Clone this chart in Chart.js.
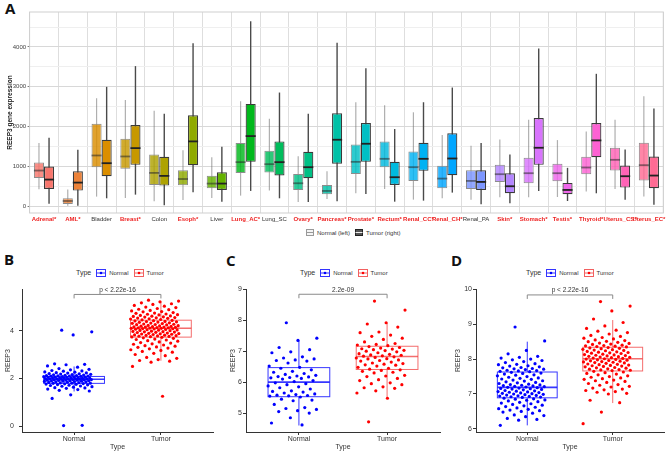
<!DOCTYPE html>
<html>
<head>
<meta charset="utf-8">
<script src="https://cdn.jsdelivr.net/npm/chart.js@4.4.1/dist/chart.umd.min.js"></script>
<style>
  body { margin: 0; width: 668px; height: 453px; background: #fff; position: relative; overflow: hidden; font-family: "Liberation Sans", Arial, sans-serif; }
  canvas { position: absolute; }
  .panel { position: absolute; font-family: "Open Sans", "DejaVu Sans", sans-serif; font-weight: 700; font-size: 15px; line-height: 1; color: #111; }
  .leg { position: absolute; display: flex; align-items: center; white-space: nowrap; color: #333; font-size: 6px; height: 9px; }
  .leg .ttl { font-size: 7px; margin-right: 3px; }
  .leg svg { margin: 0 3px 0 2px; }
</style>
</head>
<body>
<div class="panel" style="left:5px;top:1px">A</div>
<div class="panel" style="left:4px;top:252px">B</div>
<div class="panel" style="left:226px;top:253px">C</div>
<div class="panel" style="left:451px;top:253px">D</div>

<canvas id="chartA" width="668" height="226" style="left:0;top:0"></canvas>
<canvas id="chartB" width="222" height="173" style="left:0;top:280px"></canvas>
<canvas id="chartC" width="220" height="173" style="left:224px;top:280px"></canvas>
<canvas id="chartD" width="222" height="173" style="left:446px;top:280px"></canvas>

<div class="leg" style="left:304px;top:228px">
  <svg width="8" height="7"><rect x="0.5" y="0.5" width="7" height="6" fill="#f4f4f4" stroke="#999"/><line x1="0.5" y1="3.5" x2="7.5" y2="3.5" stroke="#999"/></svg>Normal (left)
  <svg width="8" height="7" style="margin-left:5px"><rect x="0.5" y="0.5" width="7" height="6" fill="#555" stroke="#222"/><line x1="0.5" y1="3.5" x2="7.5" y2="3.5" stroke="#eee"/></svg>Tumor (right)
</div>
<div class="leg" style="left:76px;top:268px"><span class="ttl">Type</span>
  <svg width="10" height="8"><rect x="0.5" y="0.5" width="9" height="7" fill="none" stroke="#3333ff"/><line x1="0.5" y1="4" x2="9.5" y2="4" stroke="#3333ff"/><circle cx="5" cy="4" r="1.3" fill="#0000ff"/></svg>Normal
  <svg width="10" height="8" style="margin-left:5px"><rect x="0.5" y="0.5" width="9" height="7" fill="none" stroke="#f26060"/><line x1="0.5" y1="4" x2="9.5" y2="4" stroke="#f26060"/><circle cx="5" cy="4" r="1.3" fill="#ff0000"/></svg>Tumor
</div>
<div class="leg" style="left:300px;top:268px"><span class="ttl">Type</span>
  <svg width="10" height="8"><rect x="0.5" y="0.5" width="9" height="7" fill="none" stroke="#3333ff"/><line x1="0.5" y1="4" x2="9.5" y2="4" stroke="#3333ff"/><circle cx="5" cy="4" r="1.3" fill="#0000ff"/></svg>Normal
  <svg width="10" height="8" style="margin-left:5px"><rect x="0.5" y="0.5" width="9" height="7" fill="none" stroke="#f26060"/><line x1="0.5" y1="4" x2="9.5" y2="4" stroke="#f26060"/><circle cx="5" cy="4" r="1.3" fill="#ff0000"/></svg>Tumor
</div>
<div class="leg" style="left:526px;top:268px"><span class="ttl">Type</span>
  <svg width="10" height="8"><rect x="0.5" y="0.5" width="9" height="7" fill="none" stroke="#3333ff"/><line x1="0.5" y1="4" x2="9.5" y2="4" stroke="#3333ff"/><circle cx="5" cy="4" r="1.3" fill="#0000ff"/></svg>Normal
  <svg width="10" height="8" style="margin-left:5px"><rect x="0.5" y="0.5" width="9" height="7" fill="none" stroke="#f26060"/><line x1="0.5" y1="4" x2="9.5" y2="4" stroke="#f26060"/><circle cx="5" cy="4" r="1.3" fill="#ff0000"/></svg>Tumor
</div>

<script>
// ---- panel A: REEP3 expression by tissue (box stats) ----
const tissues = ['Adrenal*', 'AML*', 'Bladder', 'Breast*', 'Colon', 'Esoph*', 'Liver', 'Lung_AC*', 'Lung_SC',
  'Ovary*', 'Pancreas*', 'Prostate*', 'Rectum*', 'Renal_CC*', 'Renal_CH*', 'Renal_PA', 'Skin*', 'Stomach*',
  'Testis*', 'Thyroid*', 'Uterus_CS*', 'Uterus_EC*'];

const normalMin = [421, 5, 236, 202, 118, 151, 202, 261, 387, 101, 177, 320, 429, 160, 194, 160, 219, 219, 227, 362, 429, 236];
const normalQ1  = [707, 50, 977, 934, 530, 520, 446, 833, 842, 404, 295, 808, 976, 631, 446, 429, 606, 572, 623, 800, 892, 640];
const normalMed = [892, 126, 1271, 1246, 833, 679, 564, 1103, 1052, 572, 379, 1111, 1187, 976, 690, 631, 800, 825, 825, 968, 1162, 1027];
const normalQ3  = [1094, 194, 2071, 1692, 1296, 897, 758, 1583, 1389, 808, 530, 1549, 1625, 1372, 1010, 901, 1035, 1212, 1061, 1237, 1465, 1591];
const normalMax = [1583, 412, 2711, 2669, 2399, 1400, 1229, 2635, 2197, 1254, 875, 2610, 2534, 2357, 1785, 1515, 1675, 2172, 1658, 1877, 2172, 2761];

const tumorMin = [59, 8, 194, 286, 17, 345, 109, 379, 194, 101, 118, 303, 109, 135, 337, 42, 67, 379, 126, 320, 160, 34];
const tumorQ1  = [429, 387, 749, 1035, 513, 1027, 404, 1111, 766, 699, 1061, 1111, 530, 884, 774, 404, 320, 1035, 295, 1229, 463, 446];
const tumorMed = [665, 589, 1077, 1456, 758, 1625, 564, 1759, 1103, 976, 1667, 1566, 724, 1187, 1195, 606, 497, 1465, 404, 1650, 749, 766];
const tumorQ3  = [993, 875, 1667, 2037, 1237, 2281, 850, 2568, 1625, 1364, 2332, 2088, 1111, 1591, 1827, 901, 825, 2214, 581, 2088, 1019, 1246];
const tumorMax = [1717, 1414, 2997, 3519, 2323, 4091, 1490, 4647, 2854, 2323, 4108, 3468, 1936, 2610, 2980, 1583, 1296, 3965, 960, 3325, 1423, 2450];

const yTicksA = [0, 1000, 2000, 3000, 4000];
const yMinorA = [500, 1500, 2500, 3500, 4500];

// ---- panels B, C, D: REEP3 per sample ----
const groups = ['Normal', 'Tumor'];

const bNormal = [4.02, 3.95, 3.82, 2.61, 2.59, 2.57, 2.52, 2.47, 2.41, 2.38, 2.36, 2.33, 2.31, 2.3, 2.27, 2.26, 2.24, 2.23,
  2.22, 2.2, 2.19, 2.18, 2.17, 2.16, 2.15, 2.14, 2.13, 2.12, 2.12, 2.11, 2.1, 2.09, 2.09, 2.08, 2.07, 2.07, 2.06, 2.05,
  2.05, 2.04, 2.04, 2.03, 2.02, 2.02, 2.01, 2.01, 2.0, 2.0, 1.99, 1.99, 1.98, 1.98, 1.97, 1.97, 1.96, 1.96, 1.95, 1.95,
  1.94, 1.94, 1.93, 1.92, 1.92, 1.91, 1.9, 1.9, 1.89, 1.88, 1.88, 1.87, 1.86, 1.85, 1.85, 1.84, 1.83, 1.82, 1.81, 1.8,
  1.8, 1.79, 1.78, 1.77, 1.76, 1.75, 1.74, 1.73, 1.71, 1.7, 1.68, 1.67, 1.65, 1.63, 1.61, 1.6, 1.58, 1.55, 1.53, 1.5,
  1.47, 1.31, 1.16, 0.03, 0.02];
const bTumor = [5.28, 5.24, 5.21, 5.17, 5.13, 5.1, 5.06, 5.03, 4.99, 4.97, 4.93, 4.9, 4.88, 4.85, 4.83, 4.8, 4.79, 4.76,
  4.74, 4.73, 4.7, 4.69, 4.67, 4.66, 4.64, 4.62, 4.61, 4.6, 4.58, 4.57, 4.55, 4.54, 4.53, 4.52, 4.5, 4.49, 4.47, 4.45,
  4.43, 4.42, 4.41, 4.39, 4.38, 4.37, 4.36, 4.35, 4.33, 4.32, 4.31, 4.3, 4.28, 4.27, 4.26, 4.25, 4.24, 4.22, 4.21, 4.2,
  4.19, 4.18, 4.17, 4.16, 4.15, 4.15, 4.14, 4.13, 4.12, 4.12, 4.11, 4.1, 4.1, 4.09, 4.08, 4.07, 4.06, 4.05, 4.04, 4.03,
  4.02, 4.01, 4.0, 3.98, 3.97, 3.96, 3.95, 3.94, 3.93, 3.92, 3.9, 3.89, 3.88, 3.87, 3.86, 3.85, 3.84, 3.82, 3.81, 3.8,
  3.79, 3.78, 3.77, 3.76, 3.75, 3.74, 3.72, 3.7, 3.68, 3.65, 3.63, 3.61, 3.58, 3.56, 3.53, 3.5, 3.48, 3.45, 3.43, 3.4,
  3.37, 3.35, 3.32, 3.3, 3.27, 3.24, 3.2, 3.17, 3.13, 3.1, 3.05, 3.0, 2.95, 2.88, 2.84, 2.79, 2.75, 2.72, 2.68, 2.5, 1.25];
// box stats: [lower whisker, Q1, median, Q3, upper whisker]
const bNormalBox = [1.45, 1.79, 1.96, 2.08, 2.5];
const bTumorBox = [2.74, 3.73, 4.1, 4.44, 5.21];
const bTicks = [0, 2, 4];

const cNormal = [7.92, 7.42, 7.35, 7.12, 7.05, 6.98, 6.95, 6.82, 6.78, 6.75, 6.72, 6.7, 6.68, 6.62, 6.52, 6.48, 6.45, 6.4,
  6.35, 6.32, 6.28, 6.25, 6.22, 6.2, 6.18, 6.17, 6.15, 6.14, 6.12, 6.1, 6.05, 6.02, 5.98, 5.95, 5.92, 5.88, 5.85, 5.82,
  5.78, 5.72, 5.7, 5.68, 5.65, 5.62, 5.6, 5.58, 5.57, 5.56, 5.55, 5.52, 5.45, 5.42, 5.4, 5.28, 5.18, 5.15, 5.12, 5.08,
  5.05, 5.0, 4.85, 4.68, 4.62];
const cTumor = [8.62, 8.33, 7.92, 7.88, 7.78, 7.62, 7.6, 7.52, 7.48, 7.42, 7.38, 7.3, 7.25, 7.22, 7.2, 7.18, 7.15, 7.12,
  7.1, 7.08, 7.07, 7.05, 7.03, 7.02, 7.0, 6.98, 6.95, 6.92, 6.9, 6.88, 6.87, 6.85, 6.84, 6.82, 6.8, 6.78, 6.76, 6.75,
  6.72, 6.7, 6.68, 6.65, 6.62, 6.6, 6.58, 6.56, 6.55, 6.52, 6.48, 6.45, 6.42, 6.4, 6.38, 6.35, 6.32, 6.3, 6.22, 6.2,
  6.18, 6.12, 6.08, 6.05, 5.98, 5.95, 5.92, 5.85, 5.82, 5.8, 5.72, 5.65, 5.48, 4.72];
const cNormalBox = [4.6, 5.53, 6.0, 6.47, 7.36];
const cTumorBox = [5.48, 6.41, 6.83, 7.16, 7.9];
const cTicks = [5, 6, 7, 8, 9];

const dNormal = [8.92, 8.52, 8.25, 8.15, 8.08, 8.05, 8.03, 8.0, 7.98, 7.96, 7.93, 7.9, 7.87, 7.85, 7.84, 7.81, 7.8, 7.78,
  7.76, 7.75, 7.73, 7.72, 7.71, 7.7, 7.68, 7.67, 7.66, 7.65, 7.64, 7.62, 7.6, 7.59, 7.57, 7.55, 7.54, 7.52, 7.5, 7.48,
  7.46, 7.45, 7.43, 7.42, 7.4, 7.38, 7.37, 7.35, 7.33, 7.32, 7.3, 7.28, 7.27, 7.26, 7.25, 7.24, 7.23, 7.22, 7.21, 7.2,
  7.19, 7.18, 7.17, 7.16, 7.15, 7.14, 7.13, 7.12, 7.1, 7.09, 7.08, 7.07, 7.06, 7.05, 7.04, 7.03, 7.02, 7.01, 7.0, 6.99,
  6.98, 6.97, 6.96, 6.95, 6.94, 6.93, 6.92, 6.91, 6.9, 6.88, 6.86, 6.85, 6.83, 6.82, 6.8, 6.78, 6.76, 6.74, 6.72, 6.7,
  6.68, 6.66, 6.64, 6.62, 6.6, 6.58, 6.56, 6.54, 6.52, 6.5, 6.48, 6.45, 6.4, 6.38, 6.35, 6.3, 6.27, 6.25, 6.1];
const dTumor = [9.65, 9.52, 9.38, 9.15, 9.05, 8.95, 8.88, 8.83, 8.8, 8.76, 8.72, 8.68, 8.65, 8.62, 8.6, 8.58, 8.55, 8.53,
  8.51, 8.5, 8.48, 8.46, 8.45, 8.43, 8.42, 8.4, 8.39, 8.38, 8.37, 8.36, 8.35, 8.33, 8.32, 8.31, 8.3, 8.28, 8.27, 8.26,
  8.25, 8.24, 8.22, 8.21, 8.2, 8.19, 8.18, 8.17, 8.16, 8.14, 8.13, 8.12, 8.11, 8.1, 8.09, 8.08, 8.07, 8.06, 8.05, 8.04,
  8.03, 8.02, 8.01, 8.0, 7.99, 7.98, 7.97, 7.96, 7.95, 7.94, 7.93, 7.92, 7.91, 7.9, 7.89, 7.88, 7.86, 7.85, 7.84, 7.83,
  7.82, 7.81, 7.8, 7.79, 7.78, 7.76, 7.75, 7.74, 7.72, 7.71, 7.7, 7.69, 7.68, 7.67, 7.65, 7.63, 7.61, 7.59, 7.57, 7.55,
  7.52, 7.5, 7.48, 7.46, 7.44, 7.42, 7.4, 7.38, 7.36, 7.33, 7.3, 7.27, 7.25, 7.22, 7.2, 7.17, 7.14, 7.12, 7.1, 7.07,
  7.05, 7.02, 7.0, 6.82, 6.75, 6.48, 6.15];
const dNormalBox = [6.1, 6.89, 7.19, 7.63, 8.5];
const dTumorBox = [6.74, 7.66, 8.01, 8.34, 9.12];
const dTicks = [6, 7, 8, 9, 10];

const FONT = '"Liberation Sans", Arial, sans-serif';

// ggplot-style hue palette (hcl, c=100, l=65)
function hcl(h, c, l) {
  const hr = h * Math.PI / 180;
  const u = c * Math.cos(hr), v = c * Math.sin(hr);
  const Xn = 95.047, Yn = 100, Zn = 108.883;
  const den = Xn + 15 * Yn + 3 * Zn;
  const un = 4 * Xn / den, vn = 9 * Yn / den;
  const Y = Yn * Math.pow((l + 16) / 116, 3);
  const up = u / (13 * l) + un, vp = v / (13 * l) + vn;
  const X = Y * 9 * up / (4 * vp), Z = Y * (12 - 3 * up - 20 * vp) / (4 * vp);
  const x = X / 100, y = Y / 100, z = Z / 100;
  const lin = [
    3.2404542 * x - 1.5371385 * y - 0.4985314 * z,
    -0.9692660 * x + 1.8760108 * y + 0.0415560 * z,
    0.0556434 * x - 0.2040259 * y + 1.0572252 * z
  ];
  const gam = t => t <= 0.0031308 ? 12.92 * t : 1.055 * Math.pow(t, 1 / 2.4) - 0.055;
  return lin.map(t => Math.round(255 * Math.min(1, Math.max(0, gam(t)))));
}
const palette = tissues.map((_, i) => hcl(15 + i * 360 / tissues.length, 100, 65));
const rgba = (c, a) => `rgba(${c[0]},${c[1]},${c[2]},${a})`;

// whiskers under the bars, medians on top
const boxA = {
  id: 'boxA',
  beforeDatasetsDraw(chart) {
    const ctx = chart.ctx, ys = chart.scales.y;
    chart.data.datasets.forEach((ds, d) => {
      const meta = chart.getDatasetMeta(d);
      ctx.save();
      ctx.strokeStyle = ds.whiskerColor;
      ctx.lineWidth = ds.whiskerWidth;
      meta.data.forEach((bar, i) => {
        ctx.beginPath();
        ctx.moveTo(bar.x, ys.getPixelForValue(ds.lo[i]));
        ctx.lineTo(bar.x, ys.getPixelForValue(ds.hi[i]));
        ctx.stroke();
      });
      ctx.restore();
    });
  },
  afterDatasetsDraw(chart) {
    const ctx = chart.ctx, ys = chart.scales.y;
    chart.data.datasets.forEach((ds, d) => {
      const meta = chart.getDatasetMeta(d);
      ctx.save();
      ctx.strokeStyle = ds.medianColor;
      ctx.lineWidth = 1.8;
      meta.data.forEach((bar, i) => {
        const y = ys.getPixelForValue(ds.med[i]);
        ctx.beginPath();
        ctx.moveTo(bar.x - bar.width / 2, y);
        ctx.lineTo(bar.x + bar.width / 2, y);
        ctx.stroke();
      });
      ctx.restore();
    });
  },
  afterDraw(chart) {
    const a = chart.chartArea, ctx = chart.ctx;
    ctx.save();
    ctx.strokeStyle = '#cfcfcf';
    ctx.lineWidth = 1;
    ctx.strokeRect(a.left, a.top, a.right - a.left, a.bottom - a.top);
    ctx.restore();
  }
};

new Chart(document.getElementById('chartA'), {
  type: 'bar',
  data: {
    labels: tissues,
    datasets: [
      {
        label: 'Normal (left)',
        data: normalQ1.map((q, i) => [q, normalQ3[i]]),
        backgroundColor: palette.map(c => rgba(c, 0.82)),
        borderColor: '#8c8c8c',
        borderWidth: 1,
        borderSkipped: false,
        lo: normalMin, hi: normalMax, med: normalMed,
        whiskerColor: 'rgba(110,110,110,0.55)', whiskerWidth: 1.2,
        medianColor: 'rgba(40,40,40,0.55)'
      },
      {
        label: 'Tumor (right)',
        data: tumorQ1.map((q, i) => [q, tumorQ3[i]]),
        backgroundColor: palette.map(c => rgba(c, 1)),
        borderColor: '#3a3a3a',
        borderWidth: 1.2,
        borderSkipped: false,
        lo: tumorMin, hi: tumorMax, med: tumorMed,
        whiskerColor: '#4a4a4a', whiskerWidth: 1.4,
        medianColor: '#222'
      }
    ]
  },
  options: {
    responsive: false,
    animation: false,
    events: [],
    layout: { padding: { top: 12, right: 4.6, left: 0, bottom: 0 } },
    datasets: { bar: { categoryPercentage: 0.7, barPercentage: 1 } },
    plugins: { legend: { display: false }, tooltip: { enabled: false } },
    scales: {
      x: {
        grid: { offset: true, color: '#dedede', drawTicks: false },
        border: { display: false },
        ticks: {
          autoSkip: false, maxRotation: 0, minRotation: 0, padding: 2.5,
          color: c => tissues[c.index].endsWith('*') ? '#ee2222' : '#333',
          font: c => ({ family: FONT, size: 6, weight: tissues[c.index].endsWith('*') ? 'bold' : 'normal' })
        },
        afterFit: s => { s.height = 13; }
      },
      y: {
        min: -176, max: 4880,
        afterBuildTicks: s => { s.ticks = yTicksA.concat(yMinorA).sort((a, b) => a - b).map(v => ({ value: v })); },
        grid: {
          color: c => yTicksA.includes(c.tick.value) ? '#d8d8d8' : '#efefef',
          tickColor: c => yTicksA.includes(c.tick.value) ? '#777' : 'rgba(0,0,0,0)',
          tickLength: 2
        },
        border: { display: false },
        ticks: {
          padding: 1.5, color: '#444', font: { family: FONT, size: 6 },
          callback: v => yTicksA.includes(v) ? String(v) : ''
        },
        title: {
          display: true, text: 'REEP3 gene expression', color: '#222',
          font: { family: FONT, size: 6.5, weight: 'bold' }, padding: { top: 6, bottom: 0 }
        },
        afterFit: s => { s.width = 29.6; }
      }
    }
  },
  plugins: [boxA]
});

// deterministic spread of points around a group centre (like geom_jitter)
const jitter = i => -0.07 + (((i * 0.6180339887 + 0.37) % 1) - 0.5) * 0.56;

function jitterPanel(id, cfg) {
  const boxes = [
    { x: 1, s: cfg.normalBox, color: 'rgba(20,20,255,0.85)' },
    { x: 2, s: cfg.tumorBox, color: 'rgba(240,60,60,0.75)' }
  ];
  const boxPlugin = {
    id: 'jbox',
    beforeDatasetsDraw(chart) {
      const ctx = chart.ctx, xs = chart.scales.x, ys = chart.scales.y;
      ctx.save();
      boxes.forEach(b => {
        const x0 = xs.getPixelForValue(b.x - 0.35), x1 = xs.getPixelForValue(b.x + 0.35);
        const xc = xs.getPixelForValue(b.x);
        const [lo, q1, med, q3, hi] = b.s.map(v => ys.getPixelForValue(v));
        ctx.strokeStyle = b.color;
        ctx.lineWidth = 1;
        ctx.beginPath();
        ctx.moveTo(xc, q3); ctx.lineTo(xc, hi);
        ctx.moveTo(xc, q1); ctx.lineTo(xc, lo);
        ctx.stroke();
        ctx.strokeRect(x0, q3, x1 - x0, q1 - q3);
        ctx.lineWidth = 1.6;
        ctx.beginPath();
        ctx.moveTo(x0, med); ctx.lineTo(x1, med);
        ctx.stroke();
      });
      ctx.restore();
    },
    afterDatasetsDraw(chart) {
      const ctx = chart.ctx, xs = chart.scales.x, ys = chart.scales.y;
      const xa = xs.getPixelForValue(1), xb = xs.getPixelForValue(2);
      const yl = ys.getPixelForValue(cfg.bracket), yd = yl + 4;
      ctx.save();
      ctx.strokeStyle = '#8a8a8a';
      ctx.lineWidth = 1;
      ctx.beginPath();
      ctx.moveTo(xa, yd); ctx.lineTo(xa, yl); ctx.lineTo(xb, yl); ctx.lineTo(xb, yd);
      ctx.stroke();
      ctx.fillStyle = '#333';
      ctx.font = `6.5px ${FONT}`;
      ctx.textAlign = 'center';
      ctx.textBaseline = 'bottom';
      ctx.fillText(cfg.pText, (xa + xb) / 2, yl - 1);
      ctx.restore();
    }
  };
  const axisGrid = { drawOnChartArea: false, tickLength: 3, color: '#333' };
  new Chart(document.getElementById(id), {
    type: 'scatter',
    data: {
      datasets: [
        { label: groups[0], data: cfg.normal.map((v, i) => ({ x: 1 + jitter(i), y: v })),
          backgroundColor: '#0000ff', borderWidth: 0, pointRadius: 1.6 },
        { label: groups[1], data: cfg.tumor.map((v, i) => ({ x: 2 + jitter(i), y: v })),
          backgroundColor: '#ff0000', borderWidth: 0, pointRadius: 1.6 }
      ]
    },
    options: {
      responsive: false,
      animation: false,
      events: [],
      layout: { padding: { top: 9, right: cfg.padRight, left: 0, bottom: 0 } },
      plugins: { legend: { display: false }, tooltip: { enabled: false } },
      scales: {
        x: {
          type: 'linear', min: 0.4, max: 2.6,
          afterBuildTicks: s => { s.ticks = [{ value: 1 }, { value: 2 }]; },
          grid: axisGrid,
          border: { color: '#333', width: 1 },
          ticks: { callback: v => groups[v - 1], color: '#333', padding: 0, font: { family: FONT, size: 7 } },
          title: { display: true, text: 'Type', color: '#333', font: { family: FONT, size: 7 }, padding: { top: 0, bottom: 1.8 } },
          afterFit: s => { s.height = 21; }
        },
        y: {
          min: cfg.yMin, max: cfg.yMax,
          afterBuildTicks: s => { s.ticks = cfg.ticks.map(v => ({ value: v })); },
          grid: axisGrid,
          border: { color: '#333', width: 1 },
          ticks: { color: '#333', padding: cfg.tickPad, font: { family: FONT, size: 7 } },
          title: { display: true, text: 'REEP3', color: '#333', font: { family: FONT, size: 7 }, padding: { top: cfg.titlePad, bottom: 0 } },
          afterFit: s => { s.width = cfg.axisW; }
        }
      }
    },
    plugins: [boxPlugin]
  });
}

jitterPanel('chartB', {
  normal: bNormal, tumor: bTumor, normalBox: bNormalBox, tumorBox: bTumorBox, ticks: bTicks,
  yMin: -0.25, yMax: 5.74, bracket: 5.52, pText: 'p < 2.22e-16',
  axisW: 22, padRight: 9, tickPad: 5, titlePad: 4.1
});
jitterPanel('chartC', {
  normal: cNormal, tumor: cTumor, normalBox: cNormalBox, tumorBox: cTumorBox, ticks: cTicks,
  yMin: 4.39, yMax: 9.01, bracket: 8.84, pText: '2.2e-09',
  axisW: 22, padRight: 4, tickPad: 1, titlePad: 5.1
});
jitterPanel('chartD', {
  normal: dNormal, tumor: dTumor, normalBox: dNormalBox, tumorBox: dTumorBox, ticks: dTicks,
  yMin: 5.91, yMax: 10.01, bracket: 9.84, pText: 'p < 2.22e-16',
  axisW: 30, padRight: 3.5, tickPad: 1, titlePad: 8.1
});
</script>
</body>
</html>
